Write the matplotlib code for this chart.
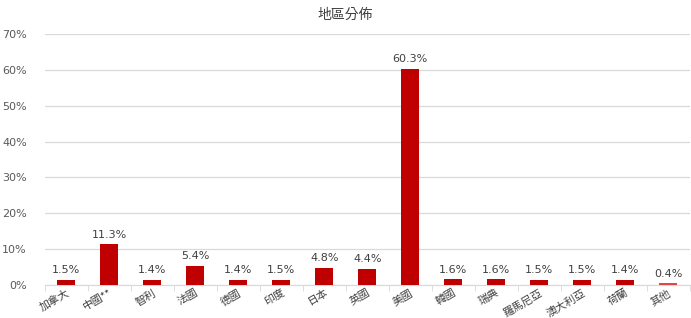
import matplotlib
matplotlib.use('Agg')
import matplotlib.pyplot as plt
import numpy as np

plt.rcParams['font.family'] = ['Noto Sans CJK TC', 'DejaVu Sans']

regions = ['加拿大', '中國**', '智利', '法國', '德國', '印度', '日本', '英國',
           '美國', '韓國', '瑞典', '羅馬尼亞', '澳大利亞', '荷蘭', '其他']
shares = [1.5, 11.3, 1.4, 5.4, 1.4, 1.5, 4.8, 4.4, 60.3, 1.6, 1.6, 1.5, 1.5, 1.4, 0.4]
yticks = [0, 10, 20, 30, 40, 50, 60, 70]

fig = plt.figure(figsize=(6.91, 3.18), dpi=100)
ax = fig.add_axes([0.065, 0.104, 0.933, 0.789])

x = np.arange(len(regions))
colors = ['#C00000'] * (len(regions) - 1) + ['#E04848']
ax.bar(x, shares, width=0.42, color=colors, zorder=3)

for xi, v in zip(x, shares):
    ax.text(xi, v + 1.3, '%.1f%%' % v, ha='center', va='bottom',
            fontsize=8, color='#404040', family='DejaVu Sans')

ax.set_xlim(-0.5, len(regions) - 0.5)
ax.set_ylim(0, 70)
ax.set_yticks(yticks)
ax.set_yticklabels(['%d%%' % t for t in yticks], fontsize=8, color='#595959',
                   family='DejaVu Sans')
ax.yaxis.grid(True, color='#D9D9D9', lw=0.9, zorder=0)
ax.tick_params(axis='y', length=0, pad=13)

ax.set_xticks(x)
ax.set_xticklabels(regions, rotation=30, ha='right', rotation_mode='anchor',
                   fontsize=7.8, color='#404040')
ax.set_xticks(np.arange(len(regions) + 1) - 0.5, minor=True)
ax.tick_params(axis='x', which='major', length=0, pad=2)
ax.tick_params(axis='x', which='minor', length=4, color='#D9D9D9')

for s in ['top', 'right', 'left']:
    ax.spines[s].set_visible(False)
ax.spines['bottom'].set_color('#D9D9D9')

fig.text(0.5, 0.952, '地區分佈', ha='center', va='center', fontsize=10,
         color='#404040')

fig.savefig('out.png', dpi=100)
